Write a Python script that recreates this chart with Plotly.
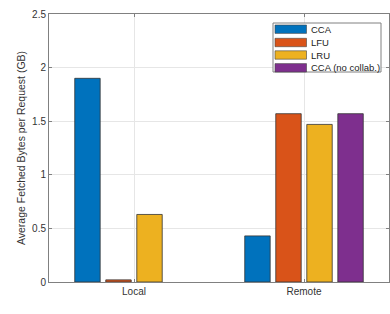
import plotly.graph_objects as go

categories = ["Local", "Remote"]
series_names = ["CCA", "LFU", "LRU", "CCA (no collab.)"]
cca = [1.90, 0.43]
lfu = [0.02, 1.57]
lru = [0.63, 1.47]
cca_nocollab = [None, 1.57]
colors = ["#0072BD", "#D95319", "#EDB120", "#7E2F8E"]

W, H = 390, 314
ML, MR, MT, MB = 49, 1, 14, 32
PW, PH = W - ML - MR, H - MT - MB

fig = go.Figure()
for name, vals, col in zip(series_names, [cca, lfu, lru, cca_nocollab], colors):
    fig.add_trace(go.Bar(
        x=[1, 2], y=vals, name=name,
        marker=dict(color=col, line=dict(color="#333333", width=0.8)),
    ))

axis_common = dict(
    showline=True, linecolor="#808080", linewidth=1, mirror="ticks",
    ticks="inside", ticklen=3, tickcolor="#808080",
    showgrid=True, gridcolor="#e6e6e6", gridwidth=1,
    tickfont=dict(family="Liberation Sans, Arial", size=10, color="#333333"),
    zeroline=False, automargin=False,
)

# MATLAB-style legend (pixel positions converted to plot-area fractions)
def px(x):
    return (x - ML) / PW

def py(y):
    return (H - MB - y) / PH

shapes = [dict(type="rect", xref="paper", yref="paper",
               x0=px(273), x1=px(381), y0=py(72), y1=py(23),
               fillcolor="white", line=dict(color="#808080", width=1), layer="above")]
annotations = []
row_y = [29.2, 42.5, 55.0, 67.8]
for name, col, yc in zip(series_names, colors, row_y):
    shapes.append(dict(type="rect", xref="paper", yref="paper",
                       x0=px(275), x1=px(306.5), y0=py(yc + 4.2), y1=py(yc - 4.2),
                       fillcolor=col, line=dict(color="#444444", width=0.6), layer="above"))
    annotations.append(dict(xref="paper", yref="paper", x=px(308.5), y=py(yc),
                            xanchor="left", yanchor="middle", text=name, showarrow=False,
                            font=dict(family="Liberation Sans, Arial", size=9.5, color="#222222")))

yaxis = dict(axis_common)
yaxis.update(automargin=True)

fig.update_layout(
    width=W, height=H,
    margin=dict(l=ML, r=MR, t=MT, b=MB),
    paper_bgcolor="white", plot_bgcolor="white",
    barmode="group", bargap=0.27, bargroupgap=0.18,
    font=dict(family="Liberation Sans, Arial", size=10, color="#333333"),
    xaxis=dict(axis_common, range=[0.5, 2.5], tickvals=[1, 2], ticktext=categories),
    yaxis=dict(yaxis, range=[0, 2.5], tickvals=[0, 0.5, 1, 1.5, 2, 2.5],
               ticktext=["0", "0.5", "1", "1.5", "2", "2.5"],
               title=dict(text="Average Fetched Bytes per Request (GB)",
                          font=dict(size=10.5, color="#333333"), standoff=4)),
    showlegend=False,
    shapes=shapes,
    annotations=annotations,
)

fig.write_html("out.html", config={"displayModeBar": False},
               post_script="document.body.style.margin='0';document.body.style.padding='0';")
